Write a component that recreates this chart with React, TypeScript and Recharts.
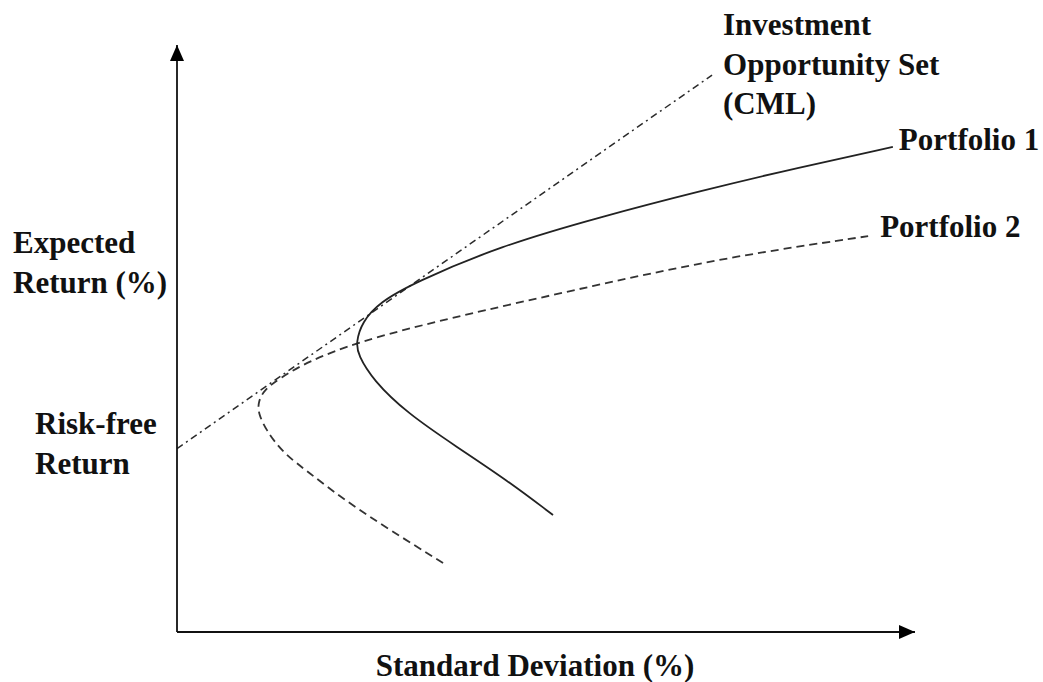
import React from 'react';
import { LineChart, Line, XAxis, YAxis, Label } from 'recharts';

// efficient frontier sketch: standard deviation (x) vs expected return (y), arbitrary units
const p1Sd = [10.19, 8.94, 7.59, 6.23, 5.31, 4.91, 4.85, 5.01, 5.5, 6.4, 8.75, 11.46, 14.17, 16.88, 19.4];
const p1Ret = [3.19, 4.14, 5.04, 5.97, 6.87, 7.55, 7.88, 8.45, 8.99, 9.51, 10.52, 11.31, 12.02, 12.67, 13.22];

const p2Sd = [7.21, 5.77, 4.42, 3.6, 2.87, 2.41, 2.2, 2.2, 2.36, 2.79, 3.52, 4.88, 7.13, 11.38, 14.91, 18.73];
const p2Ret = [1.88, 2.78, 3.68, 4.33, 4.88, 5.51, 5.97, 6.27, 6.6, 6.92, 7.36, 7.9, 8.5, 9.46, 10.22, 10.79];

const cmlSd = [0, 14.5];
const cmlRet = [5.0, 15.18];

const toPoints = (xs: number[], ys: number[]) => xs.map((x, i) => ({ x, y: ys[i] }));

const portfolio1 = toPoints(p1Sd, p1Ret);
const portfolio2 = toPoints(p2Sd, p2Ret);
const cml = toPoints(cmlSd, cmlRet);

const FONT = '"Liberation Serif", "Times New Roman", serif';
const textStyle = { fontFamily: FONT, fontWeight: 700, fontSize: 31, fill: '#111' };

// draws a multi-line text block next to one point of a line
const pointLabel = (lines: string[], at: number, dx: number, dys: number[]) => (props: any) => {
  if (props.index !== at) return null;
  const x = props.x ?? props.viewBox?.x;
  const y = props.y ?? props.viewBox?.y;
  return (
    <g key={`lbl-${lines[0]}`}>
      {lines.map((t, i) => (
        <text key={t} x={x + dx} y={y + dys[i]} textAnchor="start" style={textStyle}>
          {t}
        </text>
      ))}
    </g>
  );
};

const cmlLabel = (props: any) => {
  const end = pointLabel(['Investment', 'Opportunity Set', '(CML)'], cmlSd.length - 1, 11, [-40, 0, 39])(props);
  const start = pointLabel(['Risk-free', 'Return'], 0, -142, [-15, 25])(props);
  return end || start;
};

const App = () => {
  return (
    <div style={{ position: 'absolute', left: 0, top: 0, width: 1043, height: 682, background: '#fff' }}>
      <svg width={0} height={0} style={{ position: 'absolute' }}>
        <defs>
          <marker
            id="axisArrow"
            viewBox="0 0 16 14"
            refX={16}
            refY={7}
            markerWidth={16}
            markerHeight={14}
            markerUnits="userSpaceOnUse"
            orient="auto-start-reverse"
          >
            <path d="M0,0 L16,7 L0,14 z" fill="#000" />
          </marker>
        </defs>
      </svg>
      <LineChart width={1043} height={682} margin={{ top: 45, right: 128, bottom: 0, left: 0 }}>
        <XAxis
          type="number"
          dataKey="x"
          domain={[0, 20]}
          allowDataOverflow
          height={50}
          tick={false}
          tickLine={false}
          axisLine={{ stroke: '#111', strokeWidth: 1.8, markerEnd: 'url(#axisArrow)' }}
        >
          <Label
            content={({ viewBox }: any) => (
              <text x={viewBox.x + viewBox.width / 2 - 11} y={viewBox.y + 44} textAnchor="middle" style={textStyle}>
                Standard Deviation (%)
              </text>
            )}
          />
        </XAxis>
        <YAxis
          type="number"
          domain={[0, 16]}
          allowDataOverflow
          width={177}
          tick={false}
          tickLine={false}
          axisLine={{ stroke: '#111', strokeWidth: 1.8, markerStart: 'url(#axisArrow)' }}
        >
          <Label
            content={({ viewBox }: any) => (
              <g>
                <text x={viewBox.x + 13} y={253} style={textStyle}>Expected</text>
                <text x={viewBox.x + 13} y={293} style={textStyle}>Return (%)</text>
              </g>
            )}
          />
        </YAxis>
        <Line
          data={cml}
          dataKey="y"
          type="linear"
          stroke="#2a2a2a"
          strokeWidth={1.5}
          strokeDasharray="7 4 2 4"
          dot={false}
          activeDot={false}
          isAnimationActive={false}
          label={cmlLabel}
        />
        <Line
          data={portfolio2}
          dataKey="y"
          type="basis"
          stroke="#333"
          strokeWidth={1.8}
          strokeDasharray="8 5"
          dot={false}
          activeDot={false}
          isAnimationActive={false}
          label={pointLabel(['Portfolio 2'], p2Sd.length - 1, 12, [1])}
        />
        <Line
          data={portfolio1}
          dataKey="y"
          type="basis"
          stroke="#222"
          strokeWidth={1.8}
          dot={false}
          activeDot={false}
          isAnimationActive={false}
          label={pointLabel(['Portfolio 1'], p1Sd.length - 1, 6, [3])}
        />
      </LineChart>
    </div>
  );
};

export default App;
